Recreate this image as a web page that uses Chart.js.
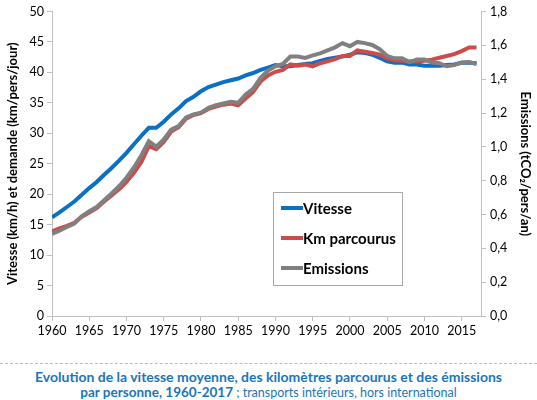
<!DOCTYPE html>
<html><head><meta charset="utf-8">
<script src="https://cdn.jsdelivr.net/npm/chart.js@4"></script>
<style>
html,body{margin:0;padding:0;background:#fff;}
#wrap{position:relative;width:537px;height:400px;overflow:hidden;}
#c{position:absolute;left:0;top:0;}
#dash{position:absolute;left:0;top:363px;width:537px;border-top:1.5px dashed #9cc2e5;}
#foot{position:absolute;left:0;top:369px;width:537px;text-align:center;color:#1b75bc;font-family:Lato,sans-serif;font-size:14px;line-height:15px;}
#foot b{font-weight:700;}
#foot span{font-size:12.5px;}
</style></head><body>
<div id="wrap">
<canvas id="c" width="537" height="345"></canvas>
<div id="dash"></div>
<div id="foot"><b>Evolution de la vitesse moyenne, des kilomètres parcourus et des émissions</b><br><b style="font-size:13.5px">par personne, 1960-2017</b><span> ; transports intérieurs, hors international</span></div>
</div>
<script>
const years = [];
for (let y = 1960; y <= 2017; y++) years.push(y);
const vitesse = [16.2,17.0,17.9,18.8,19.9,21.0,22.0,23.2,24.3,25.5,26.8,28.2,29.6,30.9,30.9,31.9,33.1,34.1,35.3,36.0,36.9,37.6,38.0,38.4,38.7,39.0,39.5,39.9,40.4,40.8,41.2,41.0,41.0,41.2,41.4,41.5,41.9,42.2,42.4,42.6,42.9,43.3,43.2,42.9,42.4,41.8,41.6,41.6,41.3,41.3,41.1,41.1,41.1,41.2,41.3,41.6,41.6,41.5];
const kmParcourus = [13.9,14.4,14.8,15.3,16.3,17.0,17.7,18.8,19.8,20.8,22.0,23.5,25.3,27.9,27.4,28.6,30.3,31.0,32.4,33.0,33.3,34.0,34.4,34.7,34.9,34.6,35.7,36.8,38.5,39.5,40.1,40.4,41.3,41.1,41.3,41.0,41.5,41.8,42.2,42.7,42.7,43.6,43.4,43.2,42.9,42.3,42.0,41.9,41.8,41.8,41.9,42.1,42.4,42.7,43.0,43.5,44.1,44.1];
const emissions = [0.486,0.504,0.526,0.547,0.590,0.619,0.644,0.684,0.724,0.767,0.817,0.878,0.950,1.033,1.001,1.044,1.102,1.123,1.174,1.192,1.202,1.231,1.246,1.256,1.267,1.260,1.310,1.343,1.408,1.451,1.476,1.490,1.534,1.534,1.526,1.541,1.552,1.570,1.588,1.613,1.595,1.620,1.613,1.602,1.577,1.537,1.523,1.523,1.501,1.516,1.516,1.498,1.494,1.476,1.483,1.498,1.501,1.490];
const xTicks = [1960,1965,1970,1975,1980,1985,1990,1995,2000,2005,2010,2015];
const leftTicks = [0,5,10,15,20,25,30,35,40,45,50];
const rightTicks = [0,0.2,0.4,0.6,0.8,1.0,1.2,1.4,1.6,1.8];
const seriesNames = ['Vitesse','Km parcourus','Emissions'];

const pts = arr => arr.map((v,i)=>({x:years[i],y:v}));
const axisCol = '#bfbfbf';
const tickFont = {family:'Lato', size:12.5};
const titleFont = {family:'Lato', size:13, weight:'bold'};

const legendBox = {
  id:'legendBox',
  afterDatasetsDraw(chart){
    const ctx = chart.ctx;
    const x0=273, y0=192, w=129, h=93;
    ctx.save();
    ctx.fillStyle='#fff';
    ctx.fillRect(x0,y0,w,h);
    ctx.strokeStyle='#a6a6a6';
    ctx.lineWidth=1;
    ctx.strokeRect(x0+0.5,y0+0.5,w,h);
    [0,1,2].forEach((di,k)=>{
      const ds=chart.data.datasets[di];
      const cy=y0+16+k*30;
      ctx.strokeStyle=ds.borderColor;
      ctx.lineWidth=4;
      ctx.beginPath();ctx.moveTo(281,cy);ctx.lineTo(303,cy);ctx.stroke();
      ctx.fillStyle='#000';
      ctx.font='bold 15px Lato';
      ctx.textBaseline='middle';
      ctx.fillText(ds.label,303,cy+1);
    });
    ctx.restore();
  }
};

new Chart(document.getElementById('c'),{
  type:'line',
  data:{datasets:[
    {label:seriesNames[0],data:pts(vitesse),borderColor:'#0a70c4',borderWidth:4,pointRadius:0,yAxisID:'y',order:2,tension:0},
    {label:seriesNames[1],data:pts(kmParcourus),borderColor:'#cc4b4b',borderWidth:4,pointRadius:0,yAxisID:'y',order:1,tension:0},
    {label:seriesNames[2],data:pts(emissions),borderColor:'#808080',borderWidth:4,pointRadius:0,yAxisID:'y2',order:0,tension:0}
  ]},
  options:{
    responsive:false,animation:false,
    layout:{padding:{top:9,left:0,right:0,bottom:0}},
    plugins:{legend:{display:false},tooltip:{enabled:false}},
    scales:{
      x:{type:'linear',min:1960,max:2017.6,
        afterBuildTicks(s){s.ticks=xTicks.map(v=>({value:v}));},
        afterFit(s){s.height=345-316;},
        ticks:{font:tickFont,color:'#000',maxRotation:0,padding:2,callback:v=>String(v)},
        grid:{display:true,drawOnChartArea:false,color:axisCol,tickLength:5},
        border:{display:true,color:axisCol}
      },
      y:{position:'left',min:0,max:50,
        afterBuildTicks(s){s.ticks=leftTicks.map(v=>({value:v}));},
        afterFit(s){s.width=52;},
        ticks:{font:tickFont,color:'#000',padding:3},
        grid:{display:true,drawOnChartArea:false,color:axisCol,tickLength:5},
        border:{display:true,color:axisCol},
        title:{display:true,text:'Vitesse (km/h) et demande (km/pers/jour)',font:titleFont,color:'#000',padding:{top:5,bottom:0}}
      },
      y2:{position:'right',min:0,max:1.8,
        afterBuildTicks(s){s.ticks=rightTicks.map(v=>({value:v}));},
        afterFit(s){s.width=56;},
        ticks:{font:tickFont,color:'#000',padding:4,callback:v=>Number(v).toFixed(1).replace('.',',')},
        grid:{display:true,drawOnChartArea:false,color:axisCol,tickLength:5},
        border:{display:true,color:axisCol},
        title:{display:true,text:'Emissions (tCO₂/pers/an)',font:titleFont,color:'#000',padding:{top:4,bottom:2}}
      }
    }
  },
  plugins:[legendBox]
});
</script>
</body></html>
